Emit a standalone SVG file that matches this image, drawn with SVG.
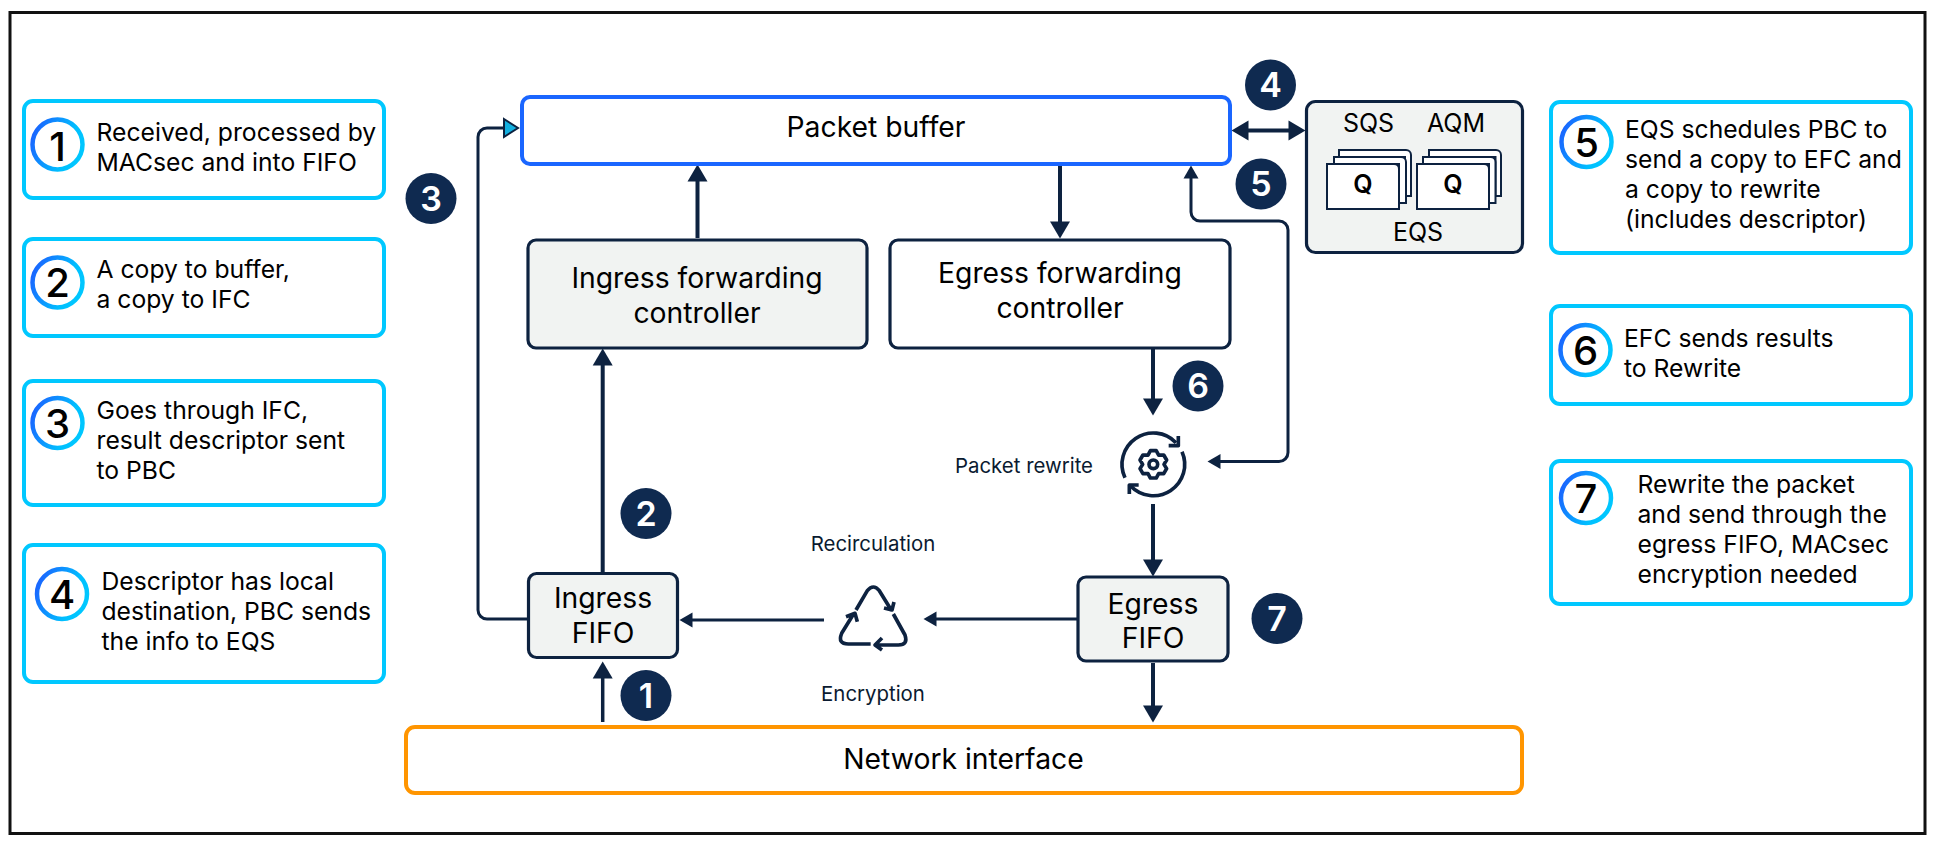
<svg xmlns="http://www.w3.org/2000/svg" width="1935" height="847" viewBox="0 0 1935 847">
<style>
text{font-family:"Inter","Liberation Sans",sans-serif;fill:#000}
.card{fill:#fff;stroke:#00c8ff;stroke-width:4}
.ring{fill:#fff;stroke:url(#rg);stroke-width:4.5}
.num{font-size:40px;font-weight:500;text-anchor:middle}
.ct{font-size:24.700px}
.badge{fill:#0f2a50}
.bn{font-size:34px;font-weight:600;fill:#fff;text-anchor:middle}
.box{fill:#fff;stroke:#0d2240;stroke-width:3.2}
.gray{fill:#f1f3f2}
.lt{font-size:28.300px;text-anchor:middle}
.sm{font-size:20.400px;text-anchor:middle;fill:#0a1a30}
.eq{font-size:25px;text-anchor:middle}
.qt{font-size:25px;font-weight:600;text-anchor:middle}
.c{fill:none;stroke:#0d2240;stroke-linejoin:round}
.ic{fill:none;stroke:#0d2240;stroke-width:11;stroke-linecap:butt;stroke-linejoin:round}
.q{fill:#fff;stroke:#0d2240;stroke-width:2}
</style>
<defs>
<linearGradient id="rg" x1="0" y1="0.3" x2="1" y2="0.7"><stop offset="0" stop-color="#1a66ff"/><stop offset="0.7" stop-color="#00bfff"/><stop offset="1" stop-color="#00c8ff"/></linearGradient>
<marker id="big" markerUnits="userSpaceOnUse" markerWidth="18" markerHeight="21" viewBox="0 0 18 21" refX="12" refY="10.5" orient="auto"><path d="M0.5 0.5L17.5 10.5L0.5 20.5Z" fill="#0d2240"/></marker>
<marker id="mid" markerUnits="userSpaceOnUse" markerWidth="14" markerHeight="16" viewBox="0 0 14 16" refX="9" refY="8" orient="auto-start-reverse"><path d="M0.5 0.5L13.5 8L0.5 15.5Z" fill="#0d2240"/></marker>
<marker id="dbl" markerUnits="userSpaceOnUse" markerWidth="18" markerHeight="21" viewBox="0 0 18 21" refX="12" refY="10.5" orient="auto-start-reverse"><path d="M0.5 0.5L17.5 10.5L0.5 20.5Z" fill="#0d2240"/></marker>
<marker id="cy" markerUnits="userSpaceOnUse" markerWidth="18" markerHeight="22" viewBox="0 0 18 22" refX="3" refY="11" orient="auto"><path d="M2 2L16 11L2 20Z" fill="#12b0e0" stroke="#0d2240" stroke-width="2"/></marker>
</defs>
<rect id="frame" x="10" y="12.5" width="1915" height="821" fill="#fff" stroke="#111" stroke-width="3"/>

<g id="connectors">
<path class="c" stroke-width="3.5" marker-end="url(#big)" d="M602.7 722V667"/>
<path class="c" stroke-width="4" marker-end="url(#big)" d="M602.7 572V354"/>
<path class="c" stroke-width="3" marker-end="url(#cy)" d="M527 619H487a9 9 0 0 1-9-9V137a9 9 0 0 1 9-9H505"/>
<path class="c" stroke-width="4" marker-end="url(#big)" d="M697.5 238V170"/>
<path class="c" stroke-width="4" marker-end="url(#big)" d="M1060 166V233"/>
<path class="c" stroke-width="4" marker-start="url(#dbl)" marker-end="url(#dbl)" d="M1237 130.5H1300"/>
<path class="c" stroke-width="3" marker-start="url(#mid)" marker-end="url(#mid)" d="M1191 170V212a9 9 0 0 0 9 9H1279a9 9 0 0 1 9 9V452.500a9 9 0 0 1-9 9H1212"/>
<path class="c" stroke-width="4" marker-end="url(#big)" d="M1153 349V410"/>
<path class="c" stroke-width="4" marker-end="url(#big)" d="M1153 504V571"/>
<path class="c" stroke-width="4" marker-end="url(#big)" d="M1153 663V717"/>
<path class="c" stroke-width="3" marker-end="url(#mid)" d="M1077 619H928"/>
<path class="c" stroke-width="3" marker-end="url(#mid)" d="M824 620H684"/>
</g>

<g id="card-1"><rect class="card" x="24" y="101" width="360" height="97" rx="9"/><circle class="ring" cx="57.500" cy="144.500" r="25"/><text class="num" x="57.500" y="161">1</text><text class="ct"><tspan x="96.500" y="141">Received, processed by</tspan><tspan x="96.500" y="171">MACsec and into FIFO</tspan></text></g>
<g id="card-2"><rect class="card" x="24" y="239" width="360" height="97" rx="9"/><circle class="ring" cx="57.500" cy="282.500" r="25"/><text class="num" x="57.500" y="297">2</text><text class="ct"><tspan x="96.500" y="278">A copy to buffer,</tspan><tspan x="96.500" y="308">a copy to IFC</tspan></text></g>
<g id="card-3"><rect class="card" x="24" y="381" width="360" height="124" rx="9"/><circle class="ring" cx="57.500" cy="423" r="25"/><text class="num" x="57.500" y="438">3</text><text class="ct"><tspan x="96.500" y="419">Goes through IFC,</tspan><tspan x="96.500" y="449">result descriptor sent</tspan><tspan x="96.500" y="479">to PBC</tspan></text></g>
<g id="card-4"><rect class="card" x="24" y="545" width="360" height="137" rx="9"/><circle class="ring" cx="62" cy="594" r="25"/><text class="num" x="62" y="609">4</text><text class="ct"><tspan x="101.500" y="590">Descriptor has local</tspan><tspan x="101.500" y="620">destination, PBC sends</tspan><tspan x="101.500" y="650">the info to EQS</tspan></text></g>
<g id="card-5"><rect class="card" x="1551" y="102" width="360" height="151" rx="9"/><circle class="ring" cx="1586.500" cy="142" r="25"/><text class="num" x="1586.500" y="157">5</text><text class="ct"><tspan x="1625" y="138">EQS schedules PBC to</tspan><tspan x="1625" y="168">send a copy to EFC and</tspan><tspan x="1625" y="198">a copy to rewrite</tspan><tspan x="1625" y="228">(includes descriptor)</tspan></text></g>
<g id="card-6"><rect class="card" x="1551" y="306" width="360" height="98" rx="9"/><circle class="ring" cx="1585.500" cy="350" r="25"/><text class="num" x="1585.500" y="365">6</text><text class="ct"><tspan x="1624" y="347">EFC sends results</tspan><tspan x="1624" y="377">to Rewrite</tspan></text></g>
<g id="card-7"><rect class="card" x="1551" y="461" width="360" height="143" rx="9"/><circle class="ring" cx="1586" cy="498" r="25"/><text class="num" x="1586" y="513">7</text><text class="ct"><tspan x="1637.500" y="493">Rewrite the packet</tspan><tspan x="1637.500" y="523">and send through the</tspan><tspan x="1637.500" y="553">egress FIFO, MACsec</tspan><tspan x="1637.500" y="583">encryption needed</tspan></text></g>

<g id="packet-buffer"><rect x="522" y="97" width="708" height="67" rx="8" fill="#fff" stroke="#1a66ff" stroke-width="4"/><text class="lt" x="876" y="137">Packet buffer</text></g>
<g id="ingress-fc"><rect class="box gray" x="528" y="240" width="339" height="108" rx="8"/><text class="lt"><tspan x="697" y="288">Ingress forwarding</tspan><tspan x="697" y="323">controller</tspan></text></g>
<g id="egress-fc"><rect class="box" x="890" y="240" width="340" height="108" rx="8"/><text class="lt"><tspan x="1060" y="283">Egress forwarding</tspan><tspan x="1060" y="318">controller</tspan></text></g>
<g id="eqs"><rect class="box gray" x="1306.500" y="101.500" width="216" height="151" rx="9"/>
<text class="eq" x="1368.500" y="132">SQS</text><text class="eq" x="1456" y="132">AQM</text>
<path class="q" d="M1339 150H1406a5 5 0 0 1 5 5V196H1405V157H1339Z"/><path class="q" d="M1334 157H1401a5 5 0 0 1 5 5V203H1399V164H1334Z"/><path class="q" d="M1327 164H1394a5 5 0 0 1 5 5V209H1327Z"/>
<path class="q" d="M1429 150H1496a5 5 0 0 1 5 5V196H1495.500V157H1429Z"/><path class="q" d="M1423 157H1490.500a5 5 0 0 1 5 5V203H1489V164H1423Z"/><path class="q" d="M1417 164H1484a5 5 0 0 1 5 5V209H1417Z"/>
<text class="qt" x="1363" y="193">Q</text><text class="qt" x="1453" y="193">Q</text>
<text class="eq" x="1418" y="241">EQS</text></g>
<g id="ingress-fifo"><rect class="box gray" x="528.500" y="573.500" width="149" height="84" rx="8"/><text class="lt"><tspan x="603" y="608">Ingress</tspan><tspan x="603" y="643">FIFO</tspan></text></g>
<g id="egress-fifo"><rect class="box gray" x="1078" y="577" width="150" height="84" rx="8"/><text class="lt"><tspan x="1153" y="614">Egress</tspan><tspan x="1153" y="648">FIFO</tspan></text></g>
<g id="network-interface"><rect x="406" y="727" width="1116" height="66" rx="9" fill="#fff" stroke="#ff9500" stroke-width="4"/><text class="lt" x="963.500" y="769">Network interface</text></g>

<g id="packet-rewrite"><text class="sm" x="1024" y="472.500">Packet rewrite</text>
<g transform="translate(780 370) scale(.33333)">
<path class="ic" d="M1035 323A94 94 0 0 1 1188 218M1206 245A94 94 0 0 1 1052 348"/>
<path class="ic" d="M1195 198V227H1166M1048 372V345H1076"/>
<g transform="translate(1120 283)"><path class="ic" d="M-8.700 -41.100L8.700 -41.100L16 -27.700L31.200 -28.100L39.900 -13L32 0L39.900 13L31.200 28.100L16 27.700L8.700 41.100L-8.700 41.100L-16 27.700L-31.200 28.100L-39.900 13L-32 0L-39.900 -13L-31.200 -28.100L-16 -27.700Z"/><circle class="ic" r="13"/></g>
</g></g>
<g id="recirculation"><text class="sm" x="873" y="550.500">Recirculation</text><text class="sm" x="873" y="700.500">Encryption</text>
<g transform="translate(780 370) scale(.33333)">
<path class="ic" d="M228 720L262 662Q280 640 298 662L335 722M342 696L336 720L312 714"/>
<path class="ic" d="M340 732L375 795Q385 825 355 825H290M306 804L285 825L306 840"/>
<path class="ic" d="M272 822H205Q172 822 185 790L222 730M198 740L225 730L232 755"/>
</g></g>

<g id="badges">
<circle class="badge" cx="646" cy="695.500" r="25.500"/><text class="bn" x="646" y="707.500">1</text>
<circle class="badge" cx="646" cy="513.500" r="25.500"/><text class="bn" x="646" y="525.500">2</text>
<circle class="badge" cx="431" cy="198.500" r="25.500"/><text class="bn" x="431" y="210.500">3</text>
<circle class="badge" cx="1270.500" cy="85" r="25.500"/><text class="bn" x="1270.500" y="97">4</text>
<circle class="badge" cx="1261" cy="184" r="25.500"/><text class="bn" x="1261" y="196">5</text>
<circle class="badge" cx="1198" cy="386" r="25.500"/><text class="bn" x="1198" y="398">6</text>
<circle class="badge" cx="1277" cy="618.500" r="25.500"/><text class="bn" x="1277" y="630.500">7</text>
</g>
</svg>
